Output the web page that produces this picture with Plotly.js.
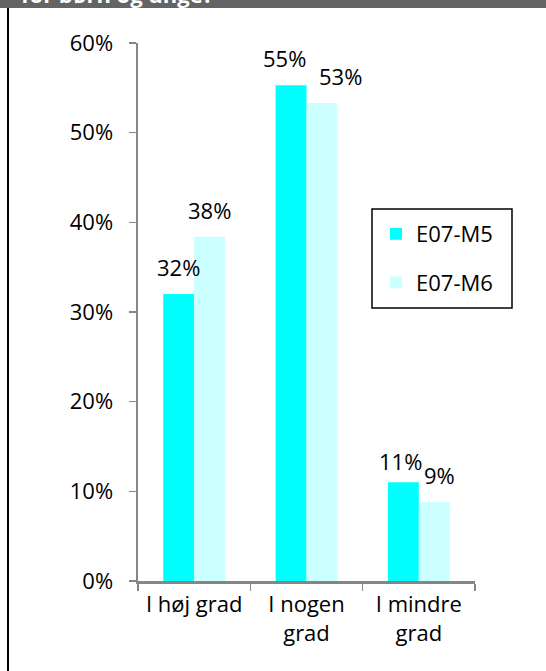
<!DOCTYPE html>
<html>
<head>
<meta charset="utf-8">
<script src="https://cdn.plot.ly/plotly-3.0.1.min.js"></script>
<style>
html,body{margin:0;padding:0;background:#fff;}
#chart{width:546px;height:671px;}
</style>
</head>
<body>
<div id="chart"></div>
<script>
const categories = ["I høj grad", "I nogen<br>grad", "I mindre<br>grad"];
const seriesNames = ["E07-M5", "E07-M6"];
const valuesM5 = [0.32, 0.553, 0.11];
const valuesM6 = [0.384, 0.533, 0.088];
const labelsM5 = ["32%", "55%", "11%"];
const labelsM6 = ["38%", "53%", "9%"];
const yTickVals = [0, 0.1, 0.2, 0.3, 0.4, 0.5, 0.6];
const yTickText = ["0%", "10%", "20%", "30%", "40%", "50%", "60%"];
const titleText = "for børn og unge?";

const FONT = "Open Sans, Noto Sans, sans-serif";
const colors = ["#00FFFF", "#CCFFFF"];

// label placement nudges (style only, pixels [dx, dy])
const nudgeM5 = [[0, 0], [-7, 0], [-3, -6]];
const nudgeM6 = [[0, 0], [18, 0], [5, 0]];

const traces = [
  {type: "bar", name: seriesNames[0], x: categories, y: valuesM5,
   marker: {color: colors[0]}, legendgroup: "a", hoverinfo: "none"},
  {type: "bar", name: seriesNames[1], x: categories, y: valuesM6,
   marker: {color: colors[1]}, legendgroup: "b", hoverinfo: "none"}
];

// geometry helpers (style constants)
const L = 138, R = 71, T = 43, B = 90, W = 546, H = 671;
const pw = W - L - R, ph = H - T - B;
const px2x = p => (p - L) / pw;
const px2y = p => 1 - (p - T) / ph;
const barHalf = 15.5;

const annotations = [];
function addLabels(vals, labs, shift, nudge) {
  vals.forEach((v, i) => {
    annotations.push({
      x: categories[i], y: v, xref: "x", yref: "y",
      text: labs[i], showarrow: false, xanchor: "center", yanchor: "bottom",
      xshift: shift + nudge[i][0], yshift: 10 + nudge[i][1],
      font: {family: FONT, size: 22, color: "#000"}
    });
  });
}
addLabels(valuesM5, labelsM5, -barHalf, nudgeM5);
addLabels(valuesM6, labelsM6, barHalf, nudgeM6);

annotations.push({
  xref: "paper", yref: "paper", x: px2x(19), y: px2y(-6),
  xanchor: "left", yanchor: "middle", showarrow: false,
  text: "<b>" + titleText + "</b>",
  font: {family: FONT, size: 22, color: "#ffffff"}
});

const layout = {
  width: W, height: H,
  margin: {l: L, r: R, t: T, b: B, pad: 0},
  paper_bgcolor: "#ffffff", plot_bgcolor: "#ffffff",
  font: {family: FONT, size: 22, color: "#000"},
  barmode: "group", bargap: 0.45, bargroupgap: 0,
  showlegend: true,
  legend: {
    x: px2x(376), y: px2y(213), xanchor: "left", yanchor: "top",
    borderwidth: 0, bgcolor: "rgba(0,0,0,0)",
    font: {family: FONT, size: 22, color: "#000"},
    traceorder: "grouped", tracegroupgap: 17, itemwidth: 30
  },
  xaxis: {
    type: "category", tickson: "boundaries", ticks: "outside", ticklen: 7,
    tickcolor: "#868686", tickwidth: 1.5,
    showline: true, linecolor: "#868686", linewidth: 2.5,
    showgrid: false, zeroline: false, fixedrange: true,
    ticklabelstandoff: 2,
    tickfont: {family: FONT, size: 22, color: "#000"}
  },
  yaxis: {
    range: [0, 0.6], tickvals: yTickVals, ticktext: yTickText,
    ticks: "outside", ticklen: 7, tickcolor: "#868686", tickwidth: 1.5,
    showline: true, linecolor: "#868686", linewidth: 2.5,
    showgrid: false, zeroline: false, fixedrange: true,
    ticklabelstandoff: 11,
    tickfont: {family: FONT, size: 22, color: "#000"}
  },
  shapes: [
    {type: "rect", xref: "paper", yref: "paper",
     x0: px2x(-5), x1: px2x(W + 5), y0: px2y(8), y1: px2y(-20),
     fillcolor: "#646464", line: {width: 0}, layer: "below"},
    {type: "line", xref: "paper", yref: "paper",
     x0: px2x(8), x1: px2x(8), y0: px2y(8), y1: px2y(H + 5),
     line: {color: "#000", width: 2}},
    {type: "rect", xref: "paper", yref: "paper",
     x0: px2x(372), x1: px2x(512), y0: px2y(209), y1: px2y(308),
     line: {color: "#000", width: 1.5}, fillcolor: "rgba(0,0,0,0)"}
  ],
  annotations: annotations
};

Plotly.newPlot("chart", traces, layout, {displayModeBar: false, staticPlot: true});
</script>
</body>
</html>
